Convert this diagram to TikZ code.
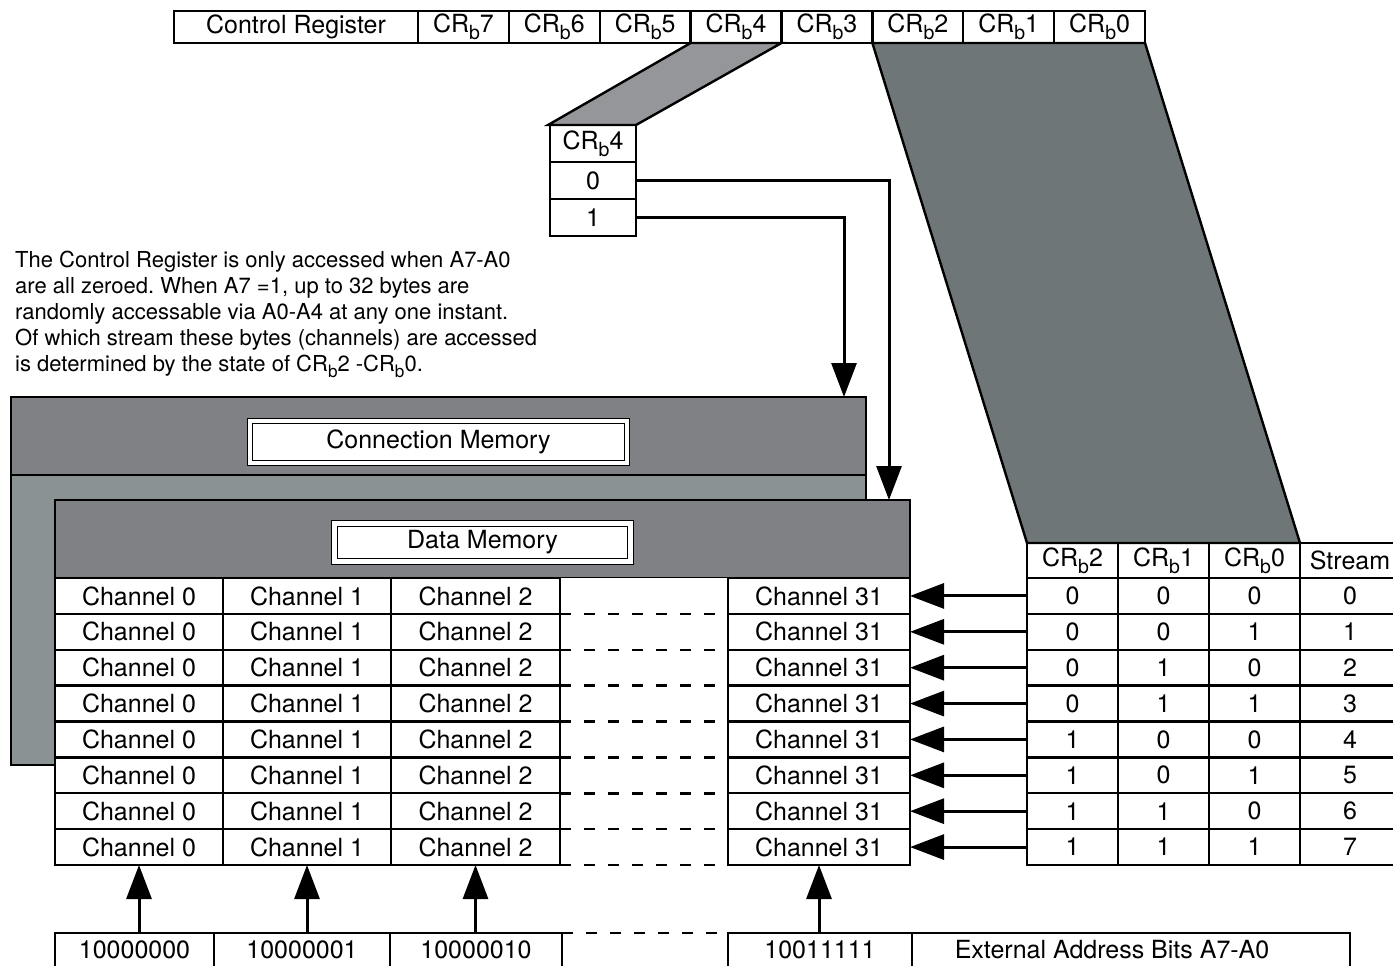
\documentclass[tikz,border=0pt]{standalone}
\usepackage{fontspec}
\usepackage{graphicx}
\setmainfont{TeX Gyre Heros}
\usetikzlibrary{positioning,arrows.meta}

\definecolor{memdark}{RGB}{128,129,133}
\definecolor{memlight}{RGB}{138,146,148}
\definecolor{bitgray}{RGB}{148,150,154}
\definecolor{streamgray}{RGB}{111,118,120}
\newcommand{\crb}[1]{CR\raisebox{-0.28em}{\scalebox{0.78}{b}}#1}
\frenchspacing

\begin{document}
\begin{tikzpicture}[x=1pt, y=-1pt,
regcell/.style={rectangle, draw=black, line width=2.4pt, fill=white, inner sep=0pt, outer sep=0pt, minimum width=90.875, minimum height=32, font=\fontsize{25}{30}\selectfont},
chcell/.style={rectangle, draw=black, line width=2.4pt, fill=white, inner sep=0pt, outer sep=0pt, minimum height=35.875, font=\fontsize{25}{30}\selectfont},
tcell/.style={chcell, minimum width=91},
memband/.style={rectangle, draw=black, line width=2.4pt, fill=memdark, inner sep=0pt, outer sep=0pt, minimum width=855, minimum height=78, anchor=north west},
memlabel/.style={rectangle, draw=black, line width=1.2pt, double=white, double distance=4.5pt, fill=white, inner sep=0pt, font=\fontsize{25}{30}\selectfont},
bigarrow/.style={-{Triangle[length=34pt, width=25pt]}, line width=3pt},
gapdash/.style={line width=2.5pt, dash pattern=on 11pt off 13pt},
]
\useasboundingbox (0,0) rectangle (1393,966);

%Memories
\node[memband, fill=memlight, minimum height=368] (cm) at (11,397) {};
\node[memband] (cmhead) at (11,397) {};
\node[memlabel, minimum width=377, minimum height=42] (cmlabel) at ([yshift=-6pt]cmhead.center) {Connection Memory};
\node[memband] (dm) at (55,500) {};
\node[memlabel, minimum width=296, minimum height=38] (dmlabel) at ([yshift=-3.5pt]dm.center) {Data Memory};
\node[fill=white, inner sep=0pt, minimum width=168, minimum height=287, anchor=north west] (gap) at (560,578) {};

%Control register
\node[regcell, minimum width=244, anchor=north west] (reg) at (174,11) {Control Register};
\node[regcell] (crb7) [right=0pt of reg]  {\crb7};
\node[regcell] (crb6) [right=0pt of crb7] {\crb6};
\node[regcell] (crb5) [right=0pt of crb6] {\crb5};
\node[regcell] (crb4) [right=0pt of crb5] {\crb4};
\node[regcell] (crb3) [right=0pt of crb4] {\crb3};
\node[regcell] (crb2) [right=0pt of crb3] {\crb2};
\node[regcell] (crb1) [right=0pt of crb2] {\crb1};
\node[regcell] (crb0) [right=0pt of crb1] {\crb0};

%Bit 4 box
\node[chcell, minimum width=86, minimum height=37, anchor=north west] (bithead) at (550,125) {\crb4};
\node[chcell, minimum width=86, minimum height=37] (bit0) [below=0pt of bithead] {0};
\node[chcell, minimum width=86, minimum height=37] (bit1) [below=0pt of bit0]    {1};

%Stream table header
\node[tcell, minimum height=35, anchor=north west] (hc2) at (1027,543) {\crb2};
\node[tcell, minimum height=35] (hc1) [right=0pt of hc2] {\crb1};
\node[tcell, minimum height=35] (hc0) [right=0pt of hc1] {\crb0};
\node[tcell, minimum height=35, minimum width=100] (hst) [right=0pt of hc0] {Stream};

%Bands
\filldraw[fill=bitgray, line width=2.4pt] (crb4.south west) -- (crb4.south east) -- (bithead.north east) -- ([xshift=-2pt]bithead.north west) -- cycle;
\filldraw[fill=streamgray, line width=2.4pt] (crb2.south west) -- (crb0.south east) -- (hc0.north east) -- (hc2.north west) -- cycle;

%Note
\node[align=left, inner sep=0pt, anchor=north west, font=\fontsize{22}{26}\selectfont] (note) at (15,251)
{The Control Register is only accessed when A7-A0\\
are all zeroed. When A7 =1, up to 32 bytes are\\
randomly accessable via A0-A4 at any one instant.\\
Of which stream these bytes (channels) are accessed\\
is determined by the state of \crb2 -\crb0.};

%Channels and streams
\foreach \r/\a/\b/\c in {0/0/0/0,1/0/0/1,2/0/1/0,3/0/1/1,4/1/0/0,5/1/0/1,6/1/1/0,7/1/1/1}{
  \node[chcell, minimum width=168, anchor=north west] (cha\r) at (55,{578+35.875*\r}) {Channel 0};
  \node[chcell, minimum width=168] (chb\r) [right=0pt of cha\r] {Channel 1};
  \node[chcell, minimum width=169] (chc\r) [right=0pt of chb\r] {Channel 2};
  \node[chcell, minimum width=182, anchor=north west] (chz\r) at (728,{578+35.875*\r}) {Channel 31};
  \node[tcell, anchor=north west] (ta\r) at (1027,{578+35.875*\r}) {\a};
  \node[tcell] (tb\r) [right=0pt of ta\r] {\b};
  \node[tcell] (tc\r) [right=0pt of tb\r] {\c};
  \node[tcell, minimum width=100] (ts\r) [right=0pt of tc\r] {\r};
  \draw[gapdash] (chc\r.south east) -- (chz\r.south west);
  \draw[bigarrow] (ta\r.west) -- (chz\r.east);
}

%Addresses
\node[chcell, minimum width=159, minimum height=34, anchor=north west] (ad0) at (55,933) {10000000};
\node[chcell, minimum width=176, minimum height=34] (ad1) [right=0pt of ad0] {10000001};
\node[chcell, minimum width=172, minimum height=34] (ad2) [right=0pt of ad1] {10000010};
\node[chcell, minimum width=184, minimum height=34, anchor=north west] (ad31) at (728,933) {10011111};
\node[chcell, minimum width=438, minimum height=34] (adtxt) [right=0pt of ad31] {\hspace*{-38pt}External Address Bits A7-A0};
\draw[gapdash] (ad2.north east) -- (ad31.north west);
\draw[gapdash] (ad2.south east) -- (ad31.south west);

%Lines
\draw[bigarrow] (bit0.east) -| ([xshift=-21pt]dm.north east);
\draw[bigarrow] (bit1.east) -| ([xshift=-22pt]cmhead.north east);
\draw[bigarrow] (cha7.south |- ad0.north) -- (cha7.south);
\draw[bigarrow] (chb7.south |- ad1.north) -- (chb7.south);
\draw[bigarrow] (chc7.south |- ad2.north) -- (chc7.south);
\draw[bigarrow] (chz7.south |- ad31.north) -- (chz7.south);

\end{tikzpicture}
\end{document}
